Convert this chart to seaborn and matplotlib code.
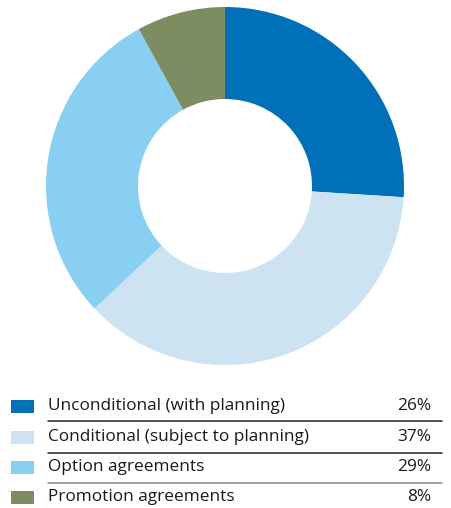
import matplotlib
matplotlib.use("Agg")
import matplotlib.pyplot as plt
import seaborn as sns
from matplotlib.patches import Rectangle
from matplotlib.lines import Line2D

categories = ["Unconditional (with planning)", "Conditional (subject to planning)",
              "Option agreements", "Promotion agreements"]
values = [26, 37, 29, 8]
labels = ["26%", "37%", "29%", "8%"]
colors = ["#0071b9", "#cee3f2", "#88cff1", "#7e8c61"]

sns.set_theme(style="white")
plt.rcParams['font.family'] = ['Open Sans', 'DejaVu Sans']

W, H = 451, 508
fig = plt.figure(figsize=(W / 100, H / 100), dpi=100)
fig.patch.set_facecolor("white")

cx, cy, r = 225, 186, 179
ax = fig.add_axes([(cx - r) / W, (H - cy - r) / H, 2 * r / W, 2 * r / H])
pal = sns.color_palette(colors)
ax.pie(values, colors=pal, startangle=90, counterclock=False, radius=1,
       wedgeprops=dict(width=1 - 87 / 179, linewidth=0))
ax.set_xlim(-1, 1)
ax.set_ylim(-1, 1)
ax.set_aspect("equal")
ax.axis("off")

row_y = [406, 437, 467, 497]
line_y = [421, 452.5, 483]
line_colors = ["#222222", "#222222", "#888888"]
for i, (cat, lab, col) in enumerate(zip(categories, labels, pal)):
    y = row_y[i]
    fig.patches.append(Rectangle((11 / W, 1 - (y + 7) / H), 23 / W, 13 / H,
                                 transform=fig.transFigure, facecolor=col,
                                 edgecolor="none"))
    fig.text(48 / W, 1 - y / H, cat, ha="left", va="center", fontsize=12.4,
             color="#1a1a1a")
    fig.text(431 / W, 1 - y / H, lab, ha="right", va="center", fontsize=12.4,
             color="#1a1a1a")
for ly, lc in zip(line_y, line_colors):
    fig.lines.append(Line2D([48 / W, 442 / W], [1 - ly / H, 1 - ly / H],
                            transform=fig.transFigure, color=lc, linewidth=1.1))

fig.savefig("out.png", dpi=100, facecolor="white")
